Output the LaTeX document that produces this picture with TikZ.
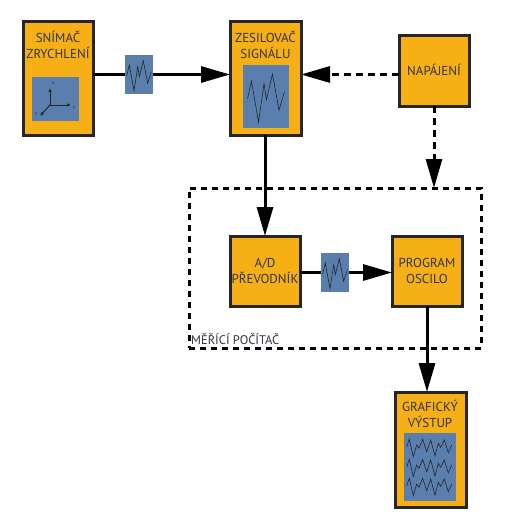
\documentclass[tikz,border=0pt]{standalone}
\usepackage{fontspec}
\setmainfont{PT Sans}
\usetikzlibrary{arrows.meta}
\definecolor{boxorange}{HTML}{F6B015}
\definecolor{waveblue}{HTML}{5A7FAF}
\definecolor{inkgrey}{HTML}{2F3440}
\tikzset{
  x=1pt,y=-1pt,
  block/.style={draw=black!85,line width=3pt,fill=boxorange,inner sep=0pt,outer sep=0pt},
  panel/.style={fill=waveblue,draw=none,inner sep=0pt,outer sep=0pt},
  label/.style={inner sep=0pt,text=inkgrey,font=\fontsize{13}{16}\selectfont,align=center},
  flow/.style={line width=3pt,draw=black,-{Triangle[length=29pt,width=16pt]}},
  plain/.style={line width=3pt,draw=black},
  feed/.style={flow,dash pattern=on 7pt off 5pt},
  trace/.style={draw=black!85,line width=0.6pt,line join=miter},
  wave/.pic={\draw[trace] (-12.3,1)--(-9.7,-10)--(-5,15.7)--(-1.3,-8.3)--(0.3,1.7)--(4.3,-14.3)--(8.7,8.3)--(12.3,-3.3);}
}
\begin{document}
\begin{tikzpicture}
\useasboundingbox (0,0) rectangle (509,528);
% boxes
\node[block,minimum width=70pt,minimum height=114pt] (snimac) at (58,78) {};
\node[block,minimum width=71pt,minimum height=114pt] (zesil) at (265.5,78) {};
\node[block,minimum width=70pt,minimum height=71pt] (napajeni) at (434,70.5) {};
\node[block,minimum width=70pt,minimum height=70pt] (prevod) at (265,271) {};
\node[block,minimum width=70pt,minimum height=70pt] (program) at (427,271) {};
\node[block,minimum width=71pt,minimum height=115pt] (graf) at (430.5,449.5) {};
% panels
\node[panel,minimum width=47pt,minimum height=44pt] (axes) at (55.5,99) {};
\node[panel,minimum width=46pt,minimum height=63pt] (bigwave) at (266,96.5) {};
\node[panel,minimum width=52pt,minimum height=68pt] (graph) at (430,467) {};
\node[panel,minimum width=28pt,minimum height=39pt] (sigA) at (139,74.5) {};
\node[panel,minimum width=28pt,minimum height=39pt] (sigB) at (335,272.5) {};
% measuring computer frame
\node[draw=black,line width=3pt,dash pattern=on 6pt off 5pt,minimum width=292pt,minimum height=160pt,inner sep=0pt,outer sep=0pt] (frame) at (335,268) {};
% labels
\node[label] (t1) at (58,45) {SNÍMAČ\\ZRYCHLENÍ};
\node[label] (t2) at (265.5,45) {ZESILOVAČ\\SIGNÁLU};
\node[label] (t3) at (434,70) {NAPÁJENÍ};
\node[label] (t4) at (265,270.5) {A/D\\PŘEVODNÍK};
\node[label] (t5) at (427,271) {PROGRAM\\OSCILO};
\node[label] (t6) at (430,414) {GRAFICKÝ\\VÝSTUP};
\node[label,anchor=west,font=\fontsize{12.5}{16}\selectfont] (t7) at (191,339) {MĚŘÍCÍ POČÍTAČ};
% connectors
\draw[plain] (snimac.east |- sigA) -- (sigA);
\coordinate (a1) at (sigA.east);
\draw[flow] (a1) -- (zesil.west |- a1);
\coordinate (p1) at (zesil.east |- a1);
\draw[feed] (napajeni.west |- p1) -- (p1);
\coordinate (f1) at (napajeni.south |- frame.north);
\draw[feed] (napajeni.south) -- (f1);
\draw[flow] (zesil.south -| prevod.north) -- (prevod.north);
\draw[plain] (prevod.east |- sigB) -- (sigB);
\coordinate (b1) at (sigB.east);
\draw[flow] (b1) -- (program.west |- b1);
\draw[flow] (program.south) -- (graf.north -| program.south);
% waves
\pic at (139,75) {wave};
\pic at (335,273) {wave};
\pic[xscale=1.5,yscale=1.6] at (266,97) {wave};
\foreach \yy in {0,20,39}{
  \draw[trace,yshift=-\yy pt] (406.7,446.7)--(409.3,439.3)--(413.3,456.7)--(416.7,445)--(419,448.3)--(422.7,439.3)--(426.7,451.7)--(430.7,440)--(435,456)--(438.3,443.3)--(440.7,447.3)--(444.3,440)--(448.3,452.7)--(451.7,445);
}
% axes
\draw[trace,line width=1pt,-{Latex[length=4pt,width=3.5pt]}] (50,105) -- (50,88);
\draw[trace,line width=1pt,-{Latex[length=4pt,width=3.5pt]}] (50,105) -- (71,105);
\draw[trace,line width=1pt,-{Latex[length=4pt,width=3.5pt]}] (50,105) -- (40,116);
\node[inner sep=0pt,text=inkgrey,font=\fontsize{5}{5}\selectfont] (ax) at (53,83) {x};
\node[inner sep=0pt,text=inkgrey,font=\fontsize{5}{5}\selectfont] (ay) at (74,108) {y};
\node[inner sep=0pt,text=inkgrey,font=\fontsize{5}{5}\selectfont] (az) at (36,114) {z};
\end{tikzpicture}
\end{document}
